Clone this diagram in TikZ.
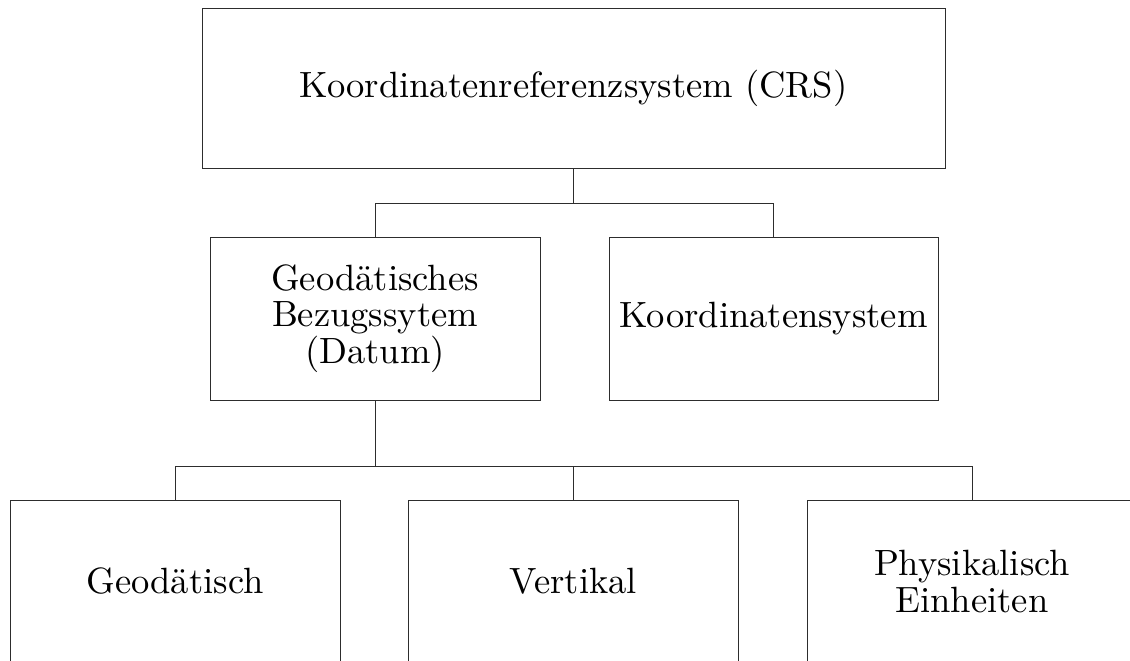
\documentclass[tikz,border=0pt]{standalone}
\usepackage{fontspec}
\usepackage{tikz}
\usetikzlibrary{positioning, shapes}
\newfontfamily\kastenschrift{lmroman10-regular.otf}
\definecolor{linie}{RGB}{45, 45, 45}
\tikzset{
    wurzel/.style={draw=linie, rectangle, line width=0.5pt, minimum width=14.86cm, minimum height=3.2cm, align=center},
    kasten/.style={draw=linie, rectangle, line width=0.5pt, minimum width=6.6cm, minimum height=3.26cm, align=center},
    conn/.style={-, linie, line width=0.5pt},
}

\begin{document}
\begin{tikzpicture}[
        font=\kastenschrift\fontsize{20.8}{20.9}\selectfont,
        ]

        \useasboundingbox (0,0) rectangle (22.6,13.22);

        \node[wurzel] (crs) at (11.47, 11.46) {Koordinatenreferenzsystem (CRS)};

        \node[kasten] (datum) at (7.5, 6.85) {Geodätisches\\Bezugssytem\\(Datum)};
        \node[kasten, minimum width=6.58cm] (ks) at (15.47, 6.85) {Koordinatensystem};

        \node[kasten] (geo) at (3.5, 1.59) {Geodätisch};
        \node[kasten] (vert) at (11.47, 1.59) {Vertikal};
        \node[kasten] (phys) at (19.44, 1.59) {Physikalisch\\Einheiten};

        \coordinate (knoten1) at (11.47, 9.16);
        \coordinate (knoten2) at (7.5, 3.9);

        \draw[conn] (crs.south) -- (knoten1);
        \draw[conn] (knoten1) -| (datum.north);
        \draw[conn] (knoten1) -| (ks.north);

        \draw[conn] (datum.south) -- (knoten2);
        \draw[conn] (knoten2) -| (geo.north);
        \draw[conn] (knoten2) -| (vert.north);
        \draw[conn] (knoten2) -| (phys.north);
\end{tikzpicture}
\end{document}
